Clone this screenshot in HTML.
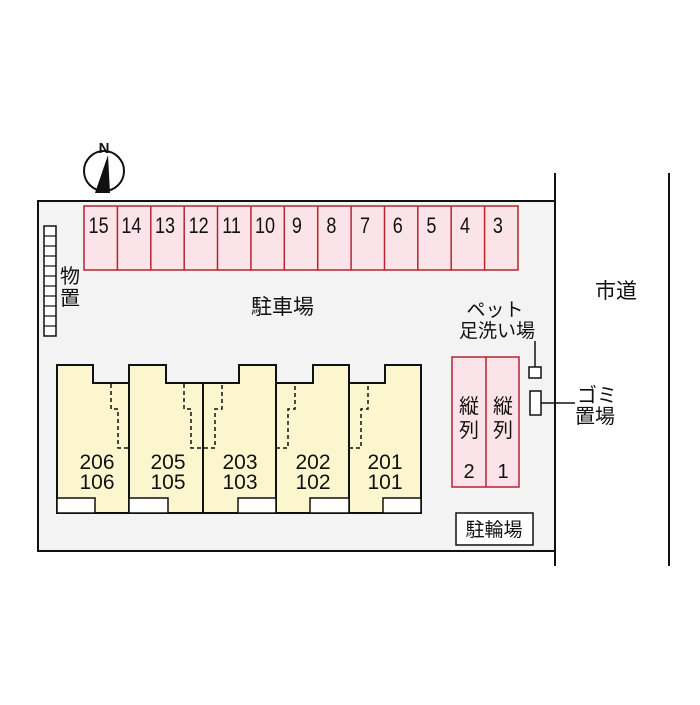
<!DOCTYPE html>
<html><head><meta charset="utf-8"><style>
html,body{margin:0;padding:0;background:#fff;}
svg text{font-family:"Liberation Sans","Noto Sans CJK JP",sans-serif;fill:#111;}
</style></head><body>
<svg width="700" height="700" viewBox="0 0 700 700" xmlns="http://www.w3.org/2000/svg">
<rect x="0" y="0" width="700" height="700" fill="#fff"/>
<!-- lot -->
<rect x="38" y="201" width="517" height="351" fill="#f3f3f3"/>
<path d="M555 551 H38 V201 H555 V566 M555 201 V173" stroke="#111" stroke-width="2" fill="none"/>
<line x1="669" y1="173" x2="669" y2="566" stroke="#111" stroke-width="2"/>
<!-- compass -->
<circle cx="104" cy="171" r="20" fill="#fff" stroke="#111" stroke-width="2"/>
<polygon points="108,155 95,193 110,193" fill="#111"/>
<text x="104" y="153" font-size="15" text-anchor="middle" font-weight="bold">N</text>
<!-- parking stalls -->
<rect x="84" y="206" width="434" height="64" stroke="#b5252f" stroke-width="1.5" fill="#fbe3ea"/>
<g stroke="#b5252f" stroke-width="1.5">
<line x1="117.4" y1="206" x2="117.4" y2="270"/><line x1="150.8" y1="206" x2="150.8" y2="270"/>
<line x1="184.2" y1="206" x2="184.2" y2="270"/><line x1="217.5" y1="206" x2="217.5" y2="270"/>
<line x1="250.9" y1="206" x2="250.9" y2="270"/><line x1="284.3" y1="206" x2="284.3" y2="270"/>
<line x1="317.7" y1="206" x2="317.7" y2="270"/><line x1="351.1" y1="206" x2="351.1" y2="270"/>
<line x1="384.5" y1="206" x2="384.5" y2="270"/><line x1="417.8" y1="206" x2="417.8" y2="270"/>
<line x1="451.2" y1="206" x2="451.2" y2="270"/><line x1="484.6" y1="206" x2="484.6" y2="270"/>
</g>
<g font-size="22" transform="scale(0.82,1)">
<text x="108" y="233">15</text><text x="148" y="233">14</text><text x="189" y="233">13</text>
<text x="230" y="233">12</text><text x="271" y="233">11</text><text x="311" y="233">10</text>
<text x="356" y="233">9</text><text x="398" y="233">8</text><text x="439" y="233">7</text>
<text x="479" y="233">6</text><text x="520" y="233">5</text><text x="561" y="233">4</text><text x="601" y="233">3</text>
</g>
<!-- storage -->
<rect x="44" y="226" width="12" height="110" stroke="#111" stroke-width="1.5" fill="#fff"/>
<g stroke="#111" stroke-width="1.2">
<line x1="44" y1="236" x2="56" y2="236"/><line x1="44" y1="246" x2="56" y2="246"/><line x1="44" y1="256" x2="56" y2="256"/>
<line x1="44" y1="266" x2="56" y2="266"/><line x1="44" y1="276" x2="56" y2="276"/><line x1="44" y1="286" x2="56" y2="286"/>
<line x1="44" y1="296" x2="56" y2="296"/><line x1="44" y1="306" x2="56" y2="306"/><line x1="44" y1="316" x2="56" y2="316"/>
<line x1="44" y1="326" x2="56" y2="326"/>
</g>
<text x="60" y="283" font-size="20">物</text>
<text x="60" y="305" font-size="20">置</text>
<text x="251" y="314" font-size="21">駐車場</text>
<text x="595" y="298" font-size="21">市道</text>
<!-- buildings -->
<g fill="#fcf6cf" stroke="#111" stroke-width="2">
<path d="M57 513 V365 H93 V383 H129 V513 Z"/>
<path d="M129 513 V365 H166 V383 H203 V513 Z"/>
<path d="M203 513 V383 H239 V365 H276 V513 Z"/>
<path d="M276 513 V383 H313 V365 H349 V513 Z"/>
<path d="M349 513 V383 H385 V365 H421 V513 Z"/>
</g>
<g fill="#fff" stroke="#111" stroke-width="1.5">
<rect x="57" y="498" width="38" height="15"/><rect x="129" y="498" width="39" height="15"/>
<rect x="238" y="498" width="38" height="15"/><rect x="310" y="498" width="39" height="15"/>
<rect x="383" y="498" width="38" height="15"/>
</g>
<g stroke="#111" stroke-width="1.5" fill="none" stroke-dasharray="4,3">
<path d="M111 384 V409 H118 V448 H129"/>
<path d="M184 384 V409 H191 V448 H203 H215 V409 H222 V384"/>
<path d="M276 448 H288 V409 H295 V384"/>
<path d="M349 448 H361 V409 H368 V384"/>
</g>
<g font-size="21" text-anchor="middle">
<text x="97" y="469">206</text><text x="97" y="489">106</text>
<text x="168" y="469">205</text><text x="168" y="489">105</text>
<text x="240" y="469">203</text><text x="240" y="489">103</text>
<text x="313" y="469">202</text><text x="313" y="489">102</text>
<text x="385" y="469">201</text><text x="385" y="489">101</text>
</g>
<!-- tandem parking -->
<rect x="452" y="357" width="67" height="130" fill="#fbe3ea" stroke="#b5252f" stroke-width="1.5"/>
<line x1="486" y1="357" x2="486" y2="487" stroke="#b5252f" stroke-width="1.5"/>
<g font-size="20" text-anchor="middle">
<text x="469" y="413">縦</text><text x="469" y="437">列</text><text x="469" y="478">2</text>
<text x="503" y="413">縦</text><text x="503" y="437">列</text><text x="503" y="478">1</text>
</g>
<!-- pet / gomi -->
<text x="495" y="316" font-size="19" text-anchor="middle">ペット</text>
<text x="497" y="337" font-size="19" text-anchor="middle">足洗い場</text>
<line x1="535" y1="341" x2="535" y2="367" stroke="#111" stroke-width="1.5"/>
<rect x="529" y="367" width="12" height="11" fill="#fff" stroke="#111" stroke-width="1.5"/>
<rect x="530" y="391" width="11" height="24" fill="#fff" stroke="#111" stroke-width="1.5"/>
<line x1="541" y1="403" x2="575" y2="403" stroke="#111" stroke-width="1.5"/>
<text x="577" y="402" font-size="20">ゴミ</text>
<text x="575" y="423" font-size="20">置場</text>
<!-- bicycle -->
<rect x="456" y="513" width="77" height="32" fill="#fff" stroke="#111" stroke-width="1.5"/>
<text x="494" y="536" font-size="19" text-anchor="middle">駐輪場</text>
</svg>
</body></html>
